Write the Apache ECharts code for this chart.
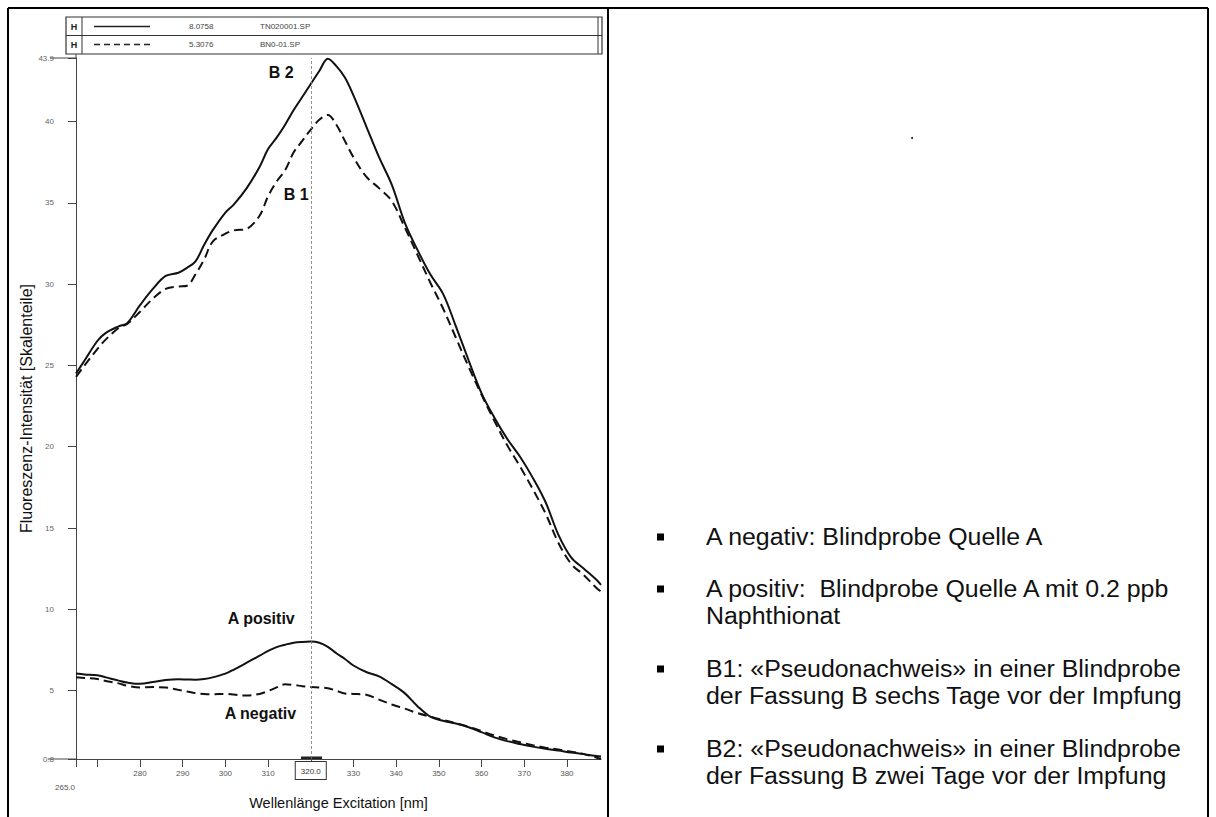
<!DOCTYPE html>
<html><head><meta charset="utf-8">
<script src="https://cdn.jsdelivr.net/npm/echarts@6/dist/echarts.min.js"></script>
<style>html,body{margin:0;padding:0;background:#fff;}#c{width:1216px;height:817px;}</style>
</head><body><div id="c"></div>
<script>
// ---- data ----
const wavelength = [265,267,270,272,275,277,280,283,286,289,291,293,295,297,300,302,305,308,310,312,314,316,318,320,322,324,326,328,330,333,336,339,342,345,348,351,354,357,360,363,366,369,372,375,378,381,384,387,388];
const b2Values = [24.5,25.3,26.5,27.0,27.4,27.6,28.7,29.7,30.5,30.7,31.0,31.4,32.4,33.3,34.4,34.9,35.9,37.2,38.3,39.0,39.8,40.7,41.5,42.3,43.1,43.85,43.4,42.7,41.6,39.7,37.8,36.1,33.8,32.1,30.6,29.4,27.4,25.3,23.3,21.8,20.5,19.4,18.1,16.6,14.6,13.2,12.5,11.8,11.5];
const b1Values = [24.3,25.0,26.0,26.6,27.3,27.55,28.3,29.1,29.7,29.85,29.9,30.6,31.5,32.6,33.1,33.3,33.4,34.2,35.4,36.3,37.0,38.1,38.8,39.5,40.1,40.4,39.8,38.8,37.8,36.6,35.9,35.1,33.5,31.8,30.1,28.5,26.7,24.9,23.2,21.6,20.1,18.8,17.4,15.9,14.1,12.8,12.1,11.3,11.1];
const aPosValues = [6.05,6.0,5.95,5.82,5.62,5.5,5.42,5.53,5.65,5.7,5.69,5.68,5.72,5.82,6.05,6.3,6.72,7.15,7.45,7.68,7.83,7.95,8.0,8.02,7.95,7.7,7.3,6.95,6.55,6.15,5.88,5.4,4.85,4.05,3.4,3.15,2.98,2.75,2.45,2.13,1.9,1.72,1.56,1.43,1.32,1.2,1.1,0.98,0.95];
const aNegValues = [5.82,5.78,5.72,5.6,5.45,5.3,5.2,5.22,5.2,5.05,4.95,4.85,4.8,4.78,4.8,4.76,4.7,4.8,4.98,5.2,5.4,5.35,5.28,5.22,5.2,5.15,5.0,4.82,4.8,4.75,4.45,4.15,3.9,3.62,3.4,3.2,3.0,2.78,2.52,2.25,2.02,1.83,1.65,1.5,1.38,1.25,1.1,0.88,0.82];
const yTickValues = [0.8,5,10,15,20,25,30,35,40,43.9];
const xTickValues = [265,270,280,290,300,310,320,330,340,350,360,370,380];
const xLabelValues = [265,280,290,300,310,330,340,350,360,370,380];
const cursorValue = 320;
const legendRows = [
  {value:'8.0758', file:'TN020001.SP'},
  {value:'5.3076', file:'BN0-01.SP'}
];
const notes = [
  ['A negativ: Blindprobe Quelle A'],
  ['A positiv:  Blindprobe Quelle A mit 0.2 ppb','Naphthionat'],
  ['B1: «Pseudonachweis» in einer Blindprobe','der Fassung B sechs Tage vor der Impfung'],
  ['B2: «Pseudonachweis» in einer Blindprobe','der Fassung B zwei Tage vor der Impfung']
];
const yAxisTitle = 'Fluoreszenz-Intensität [Skalenteile]';
const xAxisTitle = 'Wellenlänge Excitation [nm]';

const pairs = vals => wavelength.map((w,i)=>[w, vals[i]]);

const chart = echarts.init(document.getElementById('c'), null, {renderer:'svg'});

function annot(text, coord){
  return {coord: coord, symbol:'rect', symbolSize:1, itemStyle:{color:'rgba(0,0,0,0)'},
    label:{show:true, position:'inside', formatter:text, fontFamily:'Liberation Sans', fontWeight:'bold', fontSize:16, color:'#111'}};
}

const graphic = [];
// panel borders
[[8,8,1208,8],[8,8,8,817],[608,8,608,817],[1208,8,1208,817]].forEach(s=>{
  graphic.push({type:'line', silent:true, shape:{x1:s[0],y1:s[1],x2:s[2],y2:s[3]}, style:{stroke:'#000', lineWidth:2}});
});
// instrument legend box
graphic.push({type:'rect', shape:{x:66,y:17,width:536,height:37}, style:{fill:'none', stroke:'#333', lineWidth:1.2}});
graphic.push({type:'line', shape:{x1:66,y1:35.5,x2:602,y2:35.5}, style:{stroke:'#333', lineWidth:1}});
graphic.push({type:'line', shape:{x1:82,y1:17,x2:82,y2:54}, style:{stroke:'#333', lineWidth:1}});
graphic.push({type:'line', shape:{x1:598,y1:17,x2:598,y2:54}, style:{stroke:'#333', lineWidth:1}});
legendRows.forEach((r,i)=>{
  const y = 26.5 + i*18;
  graphic.push({type:'text', x:74, y:y, style:{text:'H', fontFamily:'Liberation Sans', fontWeight:'bold', fontSize:9, fill:'#222', align:'center', verticalAlign:'middle'}});
  graphic.push({type:'line', shape:{x1:94,y1:y,x2:150,y2:y}, style:{stroke:'#222', lineWidth:1.4, lineDash: i===0 ? null : [6,4]}});
  graphic.push({type:'text', x:189, y:y, style:{text:r.value, fontFamily:'Liberation Sans', fontSize:8, fill:'#444', verticalAlign:'middle'}});
  graphic.push({type:'text', x:260, y:y, style:{text:r.file, fontFamily:'Liberation Sans', fontSize:8, fill:'#444', verticalAlign:'middle'}});
});
// axis corner extensions and cursor marker
graphic.push({type:'line', shape:{x1:48,y1:759,x2:76,y2:759}, style:{stroke:'#444', lineWidth:1}});
graphic.push({type:'line', shape:{x1:50,y1:58,x2:76,y2:58}, style:{stroke:'#444', lineWidth:1}});
graphic.push({type:'line', shape:{x1:76,y1:54,x2:76,y2:58}, style:{stroke:'#444', lineWidth:1}});
graphic.push({type:'line', shape:{x1:301,y1:758,x2:322,y2:758}, style:{stroke:'#222', lineWidth:3}});
// right panel
graphic.push({type:'circle', shape:{cx:912,cy:138,r:1}, style:{fill:'#222'}});
const noteTop = [537, 589, 669, 749];
notes.forEach((lines,i)=>{
  graphic.push({type:'rect', shape:{x:657,y:noteTop[i]-3.5,width:7,height:7}, style:{fill:'#000'}});
  graphic.push({type:'text', x:706, y:noteTop[i]-13.25, scaleX:1.06,
    style:{text:lines.join('\n'), fontFamily:'Liberation Sans', fontSize:23.5, lineHeight:26.5, fill:'#111', verticalAlign:'top'}});
});

const option = {
  animation:false,
  backgroundColor:'#fff',
  grid:{left:76, right:615, top:58, bottom:58, containLabel:false},
  xAxis:{
    type:'value', min:265, max:388,
    name:xAxisTitle, nameLocation:'middle', nameGap:35,
    nameTextStyle:{fontFamily:'Liberation Sans', fontSize:14.5, color:'#111'},
    axisLine:{show:true, onZero:false, lineStyle:{color:'#444', width:1}},
    axisTick:{show:true, customValues:xTickValues, length:8, lineStyle:{color:'#444'}},
    axisLabel:{customValues:xLabelValues, fontFamily:'Liberation Sans', fontSize:8, color:'#555', margin:10,
      formatter: v => v===265 ? '{s|265.0}' : String(v),
      rich:{s:{fontFamily:'Liberation Sans', fontSize:8, color:'#555', padding:[14,22,0,0]}}},
    splitLine:{show:false}
  },
  yAxis:{
    type:'value', min:0.8, max:43.9,
    name:yAxisTitle, nameLocation:'middle', nameGap:42, nameRotate:90,
    nameTextStyle:{fontFamily:'Liberation Sans', fontSize:16, color:'#111'},
    axisLine:{show:true, lineStyle:{color:'#444', width:1}},
    axisTick:{show:true, customValues:yTickValues, length:8, lineStyle:{color:'#444'}},
    axisLabel:{customValues:yTickValues, fontFamily:'Liberation Sans', fontSize:8, color:'#666', margin:22,
      formatter: v => (v===0.8 || v===43.9) ? String(v) : String(Math.round(v))},
    splitLine:{show:false}
  },
  series:[
    {name:'B2', type:'line', data:pairs(b2Values), smooth:0.35, symbol:'none',
      lineStyle:{color:'#111', width:2},
      markLine:{silent:true, symbol:'none', data:[{xAxis:cursorValue}],
        lineStyle:{color:'#777', width:0.8, type:[3,2]},
        label:{show:true, position:'start', formatter:'320.0', fontFamily:'Liberation Sans', fontSize:8, color:'#333',
          backgroundColor:'#fff', borderColor:'#333', borderWidth:1, padding:[5,5,4,5], distance:3}},
      markPoint:{data:[annot('B 2',[313.1,43.0])]}},
    {name:'B1', type:'line', data:pairs(b1Values), smooth:0.35, symbol:'none',
      lineStyle:{color:'#111', width:2, type:[9,5]},
      markPoint:{data:[annot('B 1',[316.6,35.5])]}},
    {name:'A positiv', type:'line', data:pairs(aPosValues), smooth:0.35, symbol:'none',
      lineStyle:{color:'#111', width:2},
      markPoint:{data:[annot('A positiv',[308.4,9.45])]}},
    {name:'A negativ', type:'line', data:pairs(aNegValues), smooth:0.35, symbol:'none',
      lineStyle:{color:'#111', width:2, type:[9,5]},
      markPoint:{data:[annot('A negativ',[308.2,3.6])]}}
  ],
  graphic: graphic
};
chart.setOption(option);
</script>
</body></html>
